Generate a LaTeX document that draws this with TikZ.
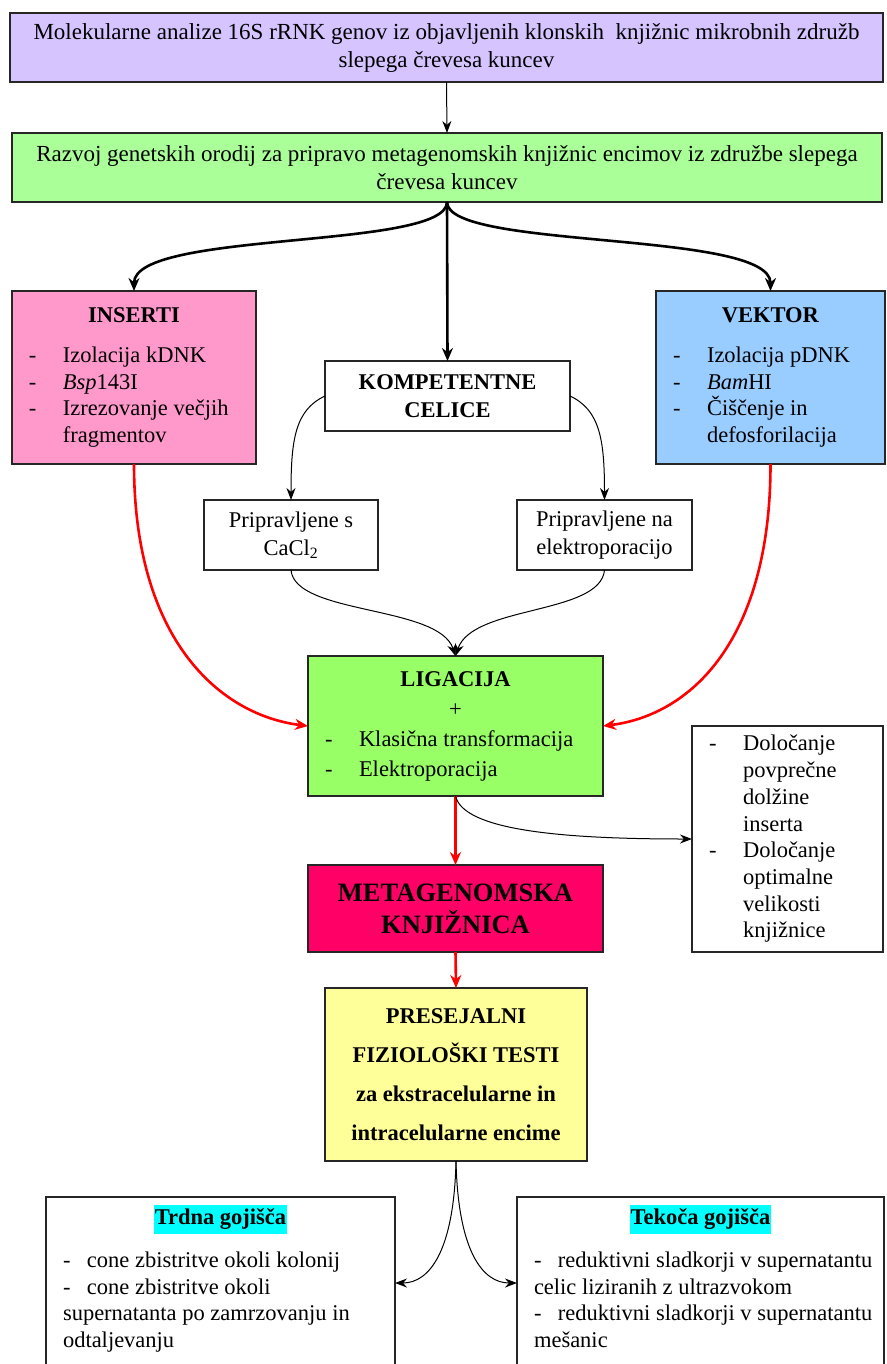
\documentclass[tikz,border=0pt]{standalone}
\usepackage{fontspec}
\setmainfont{Liberation Serif}
\usetikzlibrary{arrows.meta}
\definecolor{cTop}{RGB}{213,196,255}
\definecolor{cGreen}{RGB}{170,255,153}
\definecolor{cPink}{RGB}{255,153,204}
\definecolor{cBlue}{RGB}{153,204,255}
\definecolor{cLig}{RGB}{153,255,102}
\definecolor{cMeta}{RGB}{255,0,102}
\definecolor{cYel}{RGB}{255,255,153}
\definecolor{cHi}{RGB}{0,255,255}
\newcommand{\ditem}[1]{\hspace*{17pt}\makebox[34pt][l]{-}#1\par}
\newcommand{\dcont}[1]{\hspace*{51pt}#1\par}
\newcommand{\bitem}[1]{\hspace*{17pt}\makebox[24pt][l]{-}#1\par}
\newcommand{\bcont}[1]{\hspace*{17pt}#1\par}
\tikzset{
  box/.style={draw=black!85, line width=1.3pt, inner sep=0pt, outer sep=0pt,
    font=\fontsize{22.5}{27}\selectfont},
  thinarr/.style={-{Stealth[length=12pt,width=9pt]}, line width=1pt, black},
  thickarr/.style={-{Stealth[length=13pt,width=11pt]}, line width=2.6pt, black},
  redarr/.style={-{Stealth[length=13pt,width=11pt]}, line width=2.6pt, red},
}
\begin{document}
\begin{tikzpicture}[x=1pt,y=-1pt]
\useasboundingbox (0,0) rectangle (886,1364);
\fill[white] (0,0) rectangle (886,1364);
\clip (0,0) rectangle (886,1364);

\node[box, fill=cTop] (top) at (446.5,47.5) {\parbox[c][69pt][c]{873pt}{\centering\fontsize{23}{28}\selectfont
Molekularne analize 16S rRNK genov iz objavljenih klonskih\ \ knjižnic mikrobnih združb\\ slepega črevesa kuncev}};

\node[box, fill=cGreen] (green) at (447,167.5) {\parbox[c][69pt][c]{870pt}{\centering\fontsize{23}{28}\selectfont
Razvoj genetskih orodij za pripravo metagenomskih knjižnic encimov iz združbe slepega\\ črevesa kuncev}};

\node[box, fill=cPink] (ins) at (134,377.5) {\parbox[c][173pt][c]{244pt}{\fontsize{22.5}{26.7}\selectfont
{\centering\textbf{INSERTI}\par}\vspace{13pt}\raggedright
\ditem{Izolacija kDNK}
\ditem{\textit{Bsp}143I}
\ditem{Izrezovanje večjih}
\dcont{fragmentov}}};

\node[box, fill=cBlue] (vek) at (770.5,377.5) {\parbox[c][173pt][c]{229pt}{\fontsize{22.5}{26.7}\selectfont
{\centering\textbf{VEKTOR}\par}\vspace{13pt}\raggedright
\ditem{Izolacija pDNK}
\ditem{\textit{Bam}HI}
\ditem{Čiščenje in}
\dcont{defosforilacija}}};

\node[box, fill=white] (komp) at (447.5,396) {\parbox[c][70pt][c]{245pt}{\centering\bfseries\fontsize{22.5}{28}\selectfont
KOMPETENTNE\\CELICE}};

\node[box, fill=white] (cacl) at (291,535) {\parbox[c][70pt][c]{174pt}{\centering\fontsize{22.5}{28}\selectfont
Pripravljene s\\CaCl\textsubscript{2}}};

\node[box, fill=white] (elek) at (604.5,535) {\parbox[c][70pt][c]{175pt}{\centering\fontsize{22.5}{28}\selectfont
Pripravljene na\\elektroporacijo}};

\node[box, fill=cLig] (lig) at (455.5,726) {\parbox[c][140pt][c]{295pt}{\fontsize{22.5}{30}\selectfont
{\centering\textbf{LIGACIJA}\\ +\par}\raggedright
\ditem{Klasična transformacija}
\ditem{Elektroporacija}}};

\node[box, fill=white] (det) at (787.5,839) {\parbox[c][226pt][c]{191pt}{\fontsize{22.5}{26.7}\selectfont\raggedright
\ditem{Določanje}
\dcont{povprečne}
\dcont{dolžine}
\dcont{inserta}
\ditem{Določanje}
\dcont{optimalne}
\dcont{velikosti}
\dcont{knjižnice}}};

\node[box, fill=cMeta] (meta) at (455.5,908.5) {\parbox[c][87pt][c]{295pt}{\centering\bfseries\fontsize{26.5}{32}\selectfont
METAGENOMSKA\\KNJIŽNICA}};

\node[box, fill=cYel] (pres) at (456,1074.5) {\parbox[c][173pt][c]{262pt}{\centering\bfseries\fontsize{22.5}{39}\selectfont
PRESEJALNI\\FIZIOLOŠKI TESTI\\za ekstracelularne in\\intracelularne encime}};

\node[box, fill=white] (trd) at (220.5,1308.5) {\parbox[c][223pt][t]{349pt}{\fontsize{22.5}{26.7}\selectfont\setlength{\fboxsep}{1pt}
\vspace*{8pt}{\centering\colorbox{cHi}{\strut\textbf{Trdna gojišča}}\par}\vspace{16pt}\raggedright
\bitem{cone zbistritve okoli kolonij}
\bitem{cone zbistritve okoli}
\bcont{supernatanta po zamrzovanju in}
\bcont{odtaljevanju}}};

\node[box, fill=white] (tek) at (700.5,1308.5) {\parbox[c][223pt][t]{367pt}{\fontsize{22.5}{26.7}\selectfont\setlength{\fboxsep}{1pt}
\vspace*{8pt}{\centering\colorbox{cHi}{\strut\textbf{Tekoča gojišča}}\par}\vspace{16pt}\raggedright
\bitem{reduktivni sladkorji v supernatantu}
\bcont{celic liziranih z ultrazvokom}
\bitem{reduktivni sladkorji v supernatantu}
\bcont{mešanic}}};

% connectors
\draw[thinarr] (top.south) -- (green.north);
\draw[thickarr] (green.south) .. controls +(0,48) and +(0,-61) .. (ins.north);
\draw[thickarr] (green.south) -- (komp.north);
\draw[thickarr] (green.south) .. controls +(0,48) and +(0,-61) .. (vek.north);

\draw[thinarr] (komp.west) .. controls +(-30,14) and +(0,-60) .. (cacl.north);
\draw[thinarr] (komp.east) .. controls +(30,14) and +(0,-60) .. (elek.north);
\draw[thinarr] (cacl.south) .. controls +(4,45) and +(-17,-51) .. (lig.north);
\draw[thinarr] (elek.south) .. controls +(-4,45) and +(17,-51) .. (lig.north);

\draw[redarr] (ins.south) .. controls +(0,176) and +(-88,-11) .. (lig.west);
\draw[redarr] (vek.south) .. controls +(0,176) and +(88,-11) .. (lig.east);

\draw[redarr] (lig.south) -- (meta.north);
\draw[redarr] (meta.south) -- (pres.north);
\draw[thinarr] (lig.south) .. controls +(8,34) and +(-132,0) .. (det.west);

\draw[thinarr] (pres.south) .. controls +(-2,89) and +(35,0) .. ([yshift=-86pt]trd.north east);
\draw[thinarr] (pres.south) .. controls +(2,89) and +(-35,0) .. ([yshift=-86pt]tek.north west);
\end{tikzpicture}
\end{document}
